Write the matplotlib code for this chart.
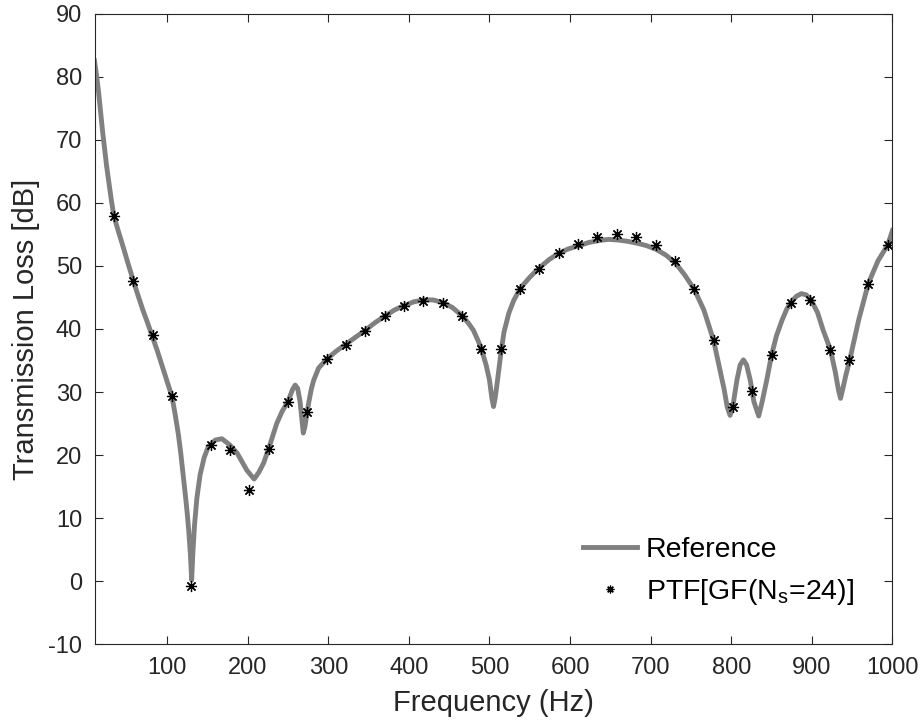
import matplotlib
matplotlib.use("Agg")
import matplotlib.pyplot as plt

plt.rcParams["font.family"] = ["Liberation Sans", "DejaVu Sans"]
plt.rcParams["mathtext.fontset"] = "custom"
plt.rcParams["mathtext.rm"] = "Liberation Sans"
plt.rcParams["axes.unicode_minus"] = False

# reference curve
ref_freq = [
    10, 12.5, 15, 17.5, 20, 22.5, 25, 28, 31, 34, 40, 46, 52, 58, 64, 70, 76, 82,
    88, 94, 100, 106, 110, 114, 117, 120, 123, 125, 127, 129, 130.5, 132, 134,
    137, 141, 146, 151, 160, 168, 178, 187, 199, 208, 214, 220, 228, 236, 243,
    250, 256, 259, 262, 265, 267, 269, 271, 274, 276, 279, 282, 288, 298, 310,
    322, 334, 346, 358, 370, 382, 394, 406, 418, 430, 442, 454, 466, 474, 480,
    486, 490, 496, 500, 503, 505, 507, 510, 514, 518, 524, 530, 538, 550, 562,
    574, 586, 598, 611, 623, 635, 648, 659, 671, 683, 695, 707, 719, 731, 742,
    754, 766, 778, 786, 791, 795, 798.5, 802, 807, 811, 815, 819, 823.5, 828,
    834, 838, 844, 850, 856, 863, 869, 875, 881, 887, 893, 899, 907, 914, 923,
    929, 933, 935.5, 938, 942, 947, 958, 970, 982, 994, 1000,
]
ref_tl = [
    82.5, 80.2, 77.6, 74.5, 71.3, 68.5, 65.8, 63.0, 60.3, 57.9, 55.3, 52.8, 50.2,
    47.7, 45.3, 43.0, 40.9, 38.7, 36.5, 34.1, 31.7, 29.3, 26.5, 23.3, 20.3, 16.8,
    13.3, 10.8, 7.8, 4.2, 0.2, 4.5, 8.8, 13.2, 16.9, 19.6, 21.3, 22.4, 22.6, 21.6,
    20.3, 17.6, 16.2, 17.3, 18.8, 21.8, 25.0, 27.0, 28.5, 30.5, 31.1, 30.6, 28.5,
    26.0, 23.5, 24.5, 27.0, 28.5, 30.5, 31.9, 33.8, 35.2, 36.5, 37.6, 38.7, 39.8,
    41.0, 42.0, 43.0, 43.7, 44.3, 44.6, 44.6, 44.2, 43.4, 42.1, 40.9, 39.8, 38.1,
    36.8, 34.2, 31.9, 29.0, 27.7, 29.0, 31.9, 36.0, 39.5, 42.5, 44.5, 46.4, 48.2,
    49.7, 51.0, 52.0, 52.7, 53.2, 53.7, 54.0, 54.2, 54.1, 53.9, 53.6, 53.2, 52.6,
    51.7, 50.4, 48.6, 46.3, 43.0, 38.2, 33.5, 30.5, 27.6, 26.3, 27.8, 31.9, 34.3,
    35.1, 34.3, 31.9, 28.5, 26.2, 28.3, 31.9, 35.9, 38.9, 41.4, 43.2, 44.4, 45.2,
    45.6, 45.4, 44.6, 42.6, 39.8, 36.7, 33.2, 30.3, 29.0, 30.3, 32.6, 35.1, 41.4,
    47.2, 50.8, 53.3, 55.6,
]

# PTF[GF(Ns=24)] samples
ptf_freq = [
    34, 58, 82, 106, 130, 154, 178, 202, 226, 250, 274, 298, 322, 346, 370,
    394, 418, 442, 466, 490, 514, 538, 562, 586, 610, 634, 658, 682, 706, 730,
    754, 778, 802, 826, 850, 874, 898, 922, 946, 970, 994,
]
ptf_tl = [
    57.9, 47.6, 39.1, 29.3, -0.7, 21.6, 20.8, 14.4, 20.9, 28.4, 26.9, 35.2, 37.4,
    39.7, 42.0, 43.6, 44.4, 44.1, 42.1, 36.8, 36.9, 46.4, 49.5, 52.0, 53.5, 54.6,
    55.0, 54.6, 53.3, 50.7, 46.3, 38.2, 27.7, 30.2, 35.9, 44.1, 44.6, 36.6, 35.0,
    47.2, 53.3,
]

axis_color = "#262626"

fig = plt.figure(figsize=(9.24, 7.26), dpi=100)
ax = fig.add_axes([0.1023, 0.1124, 0.8636, 0.869])

ax.plot(ref_freq, ref_tl, color="#808080", linewidth=3.5, label="Reference")
ax.plot(ptf_freq, ptf_tl, linestyle="none", marker=(8, 2, 0), markersize=8,
        markeredgewidth=0.9, color="black", label=r"PTF[GF(N$_\mathregular{s}$=24)]")

ax.set_xlim(10, 1000)
ax.set_ylim(-10, 90)
ax.set_xticks(range(100, 1001, 100))
ax.set_yticks(range(-10, 91, 10))
ax.tick_params(direction="in", length=6, width=0.8, labelsize=17,
               colors=axis_color, top=True, right=True, pad=9)
for spine in ax.spines.values():
    spine.set_color(axis_color)
    spine.set_linewidth(0.8)

ax.set_xlabel("Frequency (Hz)", fontsize=21, color=axis_color, labelpad=7)
ax.set_ylabel("Transmission Loss [dB]", fontsize=21, color=axis_color, labelpad=6)

ax.legend(loc="upper left", bbox_to_anchor=(0.612, 0.17), frameon=False,
          fontsize=20.5, handlelength=1.9, handletextpad=0.3, labelspacing=0.5,
          borderpad=0, borderaxespad=0, markerscale=0.7)

fig.savefig("out.png", dpi=100)
